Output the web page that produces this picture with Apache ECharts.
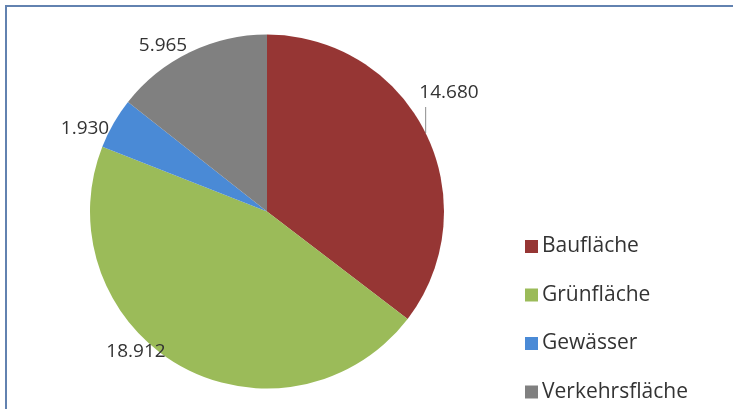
<!DOCTYPE html>
<html>
<head>
<meta charset="utf-8">
<script src="https://cdn.jsdelivr.net/npm/echarts@6/dist/echarts.min.js"></script>
<style>
html,body{margin:0;padding:0;background:#fff;}
#chart{width:733px;height:409px;}
</style>
</head>
<body>
<div id="chart"></div>
<script>
const categories = ['Baufläche', 'Grünfläche', 'Gewässer', 'Verkehrsfläche'];
const values = [14680, 18912, 1930, 5965];
const valueLabels = ['14.680', '18.912', '1.930', '5.965'];
const colors = ['#963634', '#9BBB59', '#4A8AD6', '#808080'];

// label centres (layout only)
const labelPos = [[449, 93], [136, 352], [85, 129], [163, 46]];

const chart = echarts.init(document.getElementById('chart'), null, {renderer: 'canvas'});
chart.setOption({
  backgroundColor: '#ffffff',
  animation: false,
  color: colors,
  graphic: [{
    type: 'rect',
    shape: {x: 6, y: 6, width: 760, height: 440},
    style: {fill: 'none', stroke: '#6282B0', lineWidth: 2},
    silent: true
  }],
  legend: {
    orient: 'vertical',
    left: 520,
    top: 231,
    itemWidth: 13,
    itemHeight: 13,
    itemGap: 27.5,
    icon: 'rect',
    textStyle: {
      fontFamily: 'Open Sans',
      fontSize: 21,
      lineHeight: 20,
      color: '#333333',
      padding: [0, 0, 0, -1]
    },
    data: categories
  },
  series: [{
    type: 'pie',
    center: [267, 211.5],
    radius: 177,
    startAngle: 90,
    clockwise: true,
    avoidLabelOverlap: false,
    label: {
      show: true,
      fontFamily: 'Open Sans',
      fontSize: 19,
      color: '#333333',
      formatter: p => valueLabels[p.dataIndex]
    },
    labelLine: {show: true, length: 5, length2: 5, lineStyle: {color: '#8c8c8c', width: 1}},
    labelLayout: function (params) {
      const p = labelPos[params.dataIndex];
      const out = {x: p[0], y: p[1], align: 'center', verticalAlign: 'middle'};
      const pts = params.labelLinePoints;
      if (pts && pts.length) {
        const a = pts[0];
        out.labelLinePoints = [[a[0], a[1]], [a[0], p[1] + 14], [a[0], p[1] + 14]];
      }
      return out;
    },
    data: categories.map((c, i) => ({
      name: c,
      value: values[i],
      labelLine: {show: i === 0}
    }))
  }]
});
</script>
</body>
</html>
